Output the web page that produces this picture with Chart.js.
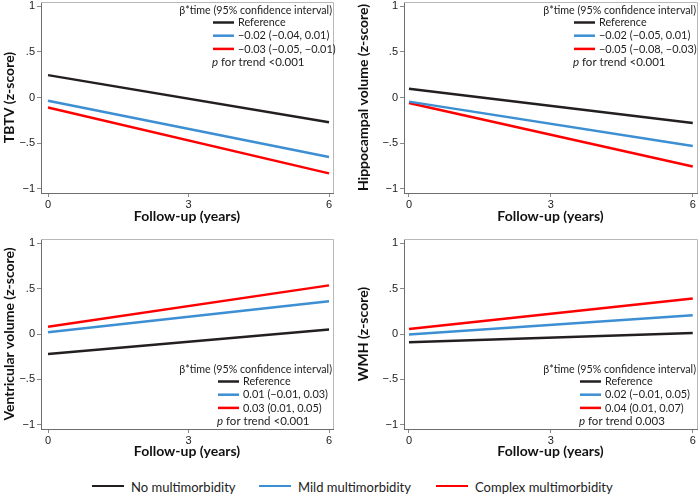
<!DOCTYPE html>
<html>
<head>
<meta charset="utf-8">
<script src="https://cdn.jsdelivr.net/npm/chart.js@4.4.0/dist/chart.umd.min.js"></script>
<style>
  html, body { margin: 0; padding: 0; background: #fff; }
  #wrap { position: relative; width: 700px; height: 495px; overflow: hidden; }
  .pane { position: absolute; }
  .lg { position: absolute; top: 477px; height: 18px; display: flex; align-items: center;
        font: 14px Lato, sans-serif; color: #222; white-space: nowrap; }
  .lg i { display: inline-block; width: 32px; height: 2.5px; margin-right: 7px; }
  .lg span { display: inline-block; transform: scaleX(0.93); transform-origin: left center; }
</style>
</head>
<body>
<div id="wrap">
  <div class="pane" style="left:0;top:0"><canvas id="c-tbtv" width="350" height="225"></canvas></div>
  <div class="pane" style="left:350px;top:0"><canvas id="c-hippo" width="350" height="225"></canvas></div>
  <div class="pane" style="left:0;top:225px"><canvas id="c-vent" width="350" height="235"></canvas></div>
  <div class="pane" style="left:350px;top:225px"><canvas id="c-wmh" width="350" height="235"></canvas></div>

  <div class="lg" style="left:92px"><i style="background:#231f20"></i><span>No multimorbidity</span></div>
  <div class="lg" style="left:259px"><i style="background:#3d8fd3"></i><span>Mild multimorbidity</span></div>
  <div class="lg" style="left:436px"><i style="background:#ff0000"></i><span>Complex multimorbidity</span></div>
</div>

<script>
// ── DATA ──────────────────────────────────────────────────────
const followUp = [0, 6];                 // years
const xTicks   = [0, 3, 6];
const yTicks   = [-1, -0.5, 0, 0.5, 1];
const yTickLabels = ['\u22121', '\u2212.5', '0', '.5', '1'];

const groups = ['No multimorbidity', 'Mild multimorbidity', 'Complex multimorbidity'];

const tbtvNo       = [0.245, -0.27];
const tbtvMild     = [-0.035, -0.65];
const tbtvComplex  = [-0.11, -0.83];

const hippoNo      = [0.095, -0.28];
const hippoMild    = [-0.045, -0.53];
const hippoComplex = [-0.06, -0.755];

const ventNo       = [-0.22, 0.05];
const ventMild     = [0.02, 0.36];
const ventComplex  = [0.08, 0.535];

const wmhNo        = [-0.09, 0.01];
const wmhMild      = [-0.005, 0.205];
const wmhComplex   = [0.055, 0.39];

const tbtvKey  = ['Reference', '\u22120.02 (\u22120.04, 0.01)', '\u22120.03 (\u22120.05, \u22120.01)'];
const hippoKey = ['Reference', '\u22120.02 (\u22120.05, 0.01)', '\u22120.05 (\u22120.08, \u22120.03)'];
const ventKey  = ['Reference', '0.01 (\u22120.01, 0.03)', '0.03 (0.01, 0.05)'];
const wmhKey   = ['Reference', '0.02 (\u22120.01, 0.05)', '0.04 (0.01, 0.07)'];
const pTrend   = ['<0.001', '<0.001', '<0.001', '0.003'];

// ── STYLE ─────────────────────────────────────────────────────
const COLORS    = ['#231f20', '#3d8fd3', '#ff0000'];
const TICKFONT  = { family: "'Liberation Sans', Arial, sans-serif", size: 11 };
const TITLEFONT = { family: 'Lato, sans-serif', size: 14, weight: 'bold' };
const KEYFONT   = '11.5px Lato, sans-serif';

// Lato is wider than the original's Calibri-like face: squeeze words a little
function squeezed(ctx, text, x, y, k) {
  const w = ctx.measureText(text).width * k;
  ctx.fillText(text, x, y, w);
  return w;
}

// in-plot key + light top/right frame
const keyPlugin = {
  id: 'key',
  afterDraw(chart, args, o) {
    const { ctx, chartArea: a } = chart;
    ctx.save();
    ctx.strokeStyle = '#b8b8b8';
    ctx.lineWidth = 1;
    ctx.beginPath();
    ctx.moveTo(a.left, a.top + 0.5);
    ctx.lineTo(a.right + 0.5, a.top + 0.5);
    ctx.lineTo(a.right + 0.5, a.bottom);
    ctx.stroke();

    const y0 = a.top + o.top;
    ctx.fillStyle = '#222';
    ctx.textBaseline = 'middle';
    ctx.font = KEYFONT;
    ctx.textAlign = 'right';
    squeezed(ctx, '\u03b2*time (95% confidence interval)', a.right - 1, y0, 0.93);

    ctx.textAlign = 'left';
    const x0 = a.right - o.dx;
    o.rows.forEach((t, i) => {
      const y = y0 + 12.5 + i * 13.2;
      ctx.strokeStyle = COLORS[i];
      ctx.lineWidth = 2.5;
      ctx.beginPath();
      ctx.moveTo(x0, y);
      ctx.lineTo(x0 + 21, y);
      ctx.stroke();
      squeezed(ctx, t, x0 + 25, y, i === 0 ? 0.94 : 0.95);
    });
    const yp = y0 + 12.5 + 3 * 13.2;
    ctx.font = 'italic ' + KEYFONT;
    const wp = squeezed(ctx, 'p', x0 - 1, yp, 1);
    ctx.font = KEYFONT;
    squeezed(ctx, ' for trend ' + o.p, x0 - 1 + wp, yp, 1);
    ctx.restore();
  }
};

function makePanel(id, box, yTitle, series, keyRows, p) {
  const W = box.w, H = box.h;
  const datasets = series.map((vals, i) => ({
    label: groups[i],
    data: followUp.map((x, j) => ({ x, y: vals[j] })),
    borderColor: COLORS[i],
    borderWidth: 2.5,
    pointRadius: 0,
    tension: 0,
    fill: false,
  }));

  return new Chart(document.getElementById(id), {
    type: 'line',
    data: { datasets },
    plugins: [keyPlugin],
    options: {
      responsive: false,
      animation: false,
      events: [],
      layout: { padding: { left: 0, top: box.top, right: W - box.right, bottom: 0 } },
      plugins: {
        legend: { display: false },
        tooltip: { enabled: false },
        key: { top: box.keyTop, dx: box.keyDx, rows: keyRows, p },
      },
      scales: {
        x: {
          type: 'linear',
          min: box.xMin, max: box.xMax,
          afterBuildTicks: s => { s.ticks = xTicks.map(v => ({ value: v })); },
          afterFit: s => { s.height = H - box.bottom; s.paddingLeft = 0; s.paddingRight = 0; },
          ticks: { font: TICKFONT, color: '#222', padding: 1, maxRotation: 0, callback: v => String(v) },
          grid: { drawOnChartArea: false, drawTicks: true, tickLength: 4, color: '#8a8a8a' },
          border: { display: true, color: '#6e6e6e', width: 1 },
          title: { display: true, text: 'Follow-up (years)', font: TITLEFONT, color: '#111', padding: 0 },
        },
        y: {
          min: -1.045, max: 1.045,
          afterBuildTicks: s => { s.ticks = yTicks.map(v => ({ value: v })); },
          afterFit: s => { s.width = box.left; s.paddingTop = 0; s.paddingBottom = 0; },
          ticks: {
            font: TICKFONT, color: '#222', padding: 2,
            callback: v => yTickLabels[yTicks.indexOf(v)] ?? '',
          },
          grid: { drawOnChartArea: false, drawTicks: true, tickLength: 4, color: '#8a8a8a' },
          border: { display: true, color: '#6e6e6e', width: 1 },
          title: { display: true, text: yTitle, font: TITLEFONT, color: '#111', padding: { top: box.yTitlePad, bottom: 0 } },
        },
      },
    },
  });
}

// ── PANELS ────────────────────────────────────────────────────
makePanel('c-tbtv',
  { w: 350, h: 225, left: 41, top: 2, right: 333, bottom: 193, xMin: -0.15, xMax: 6.085, keyTop: 8, keyDx: 120, yTitlePad: 1 },
  'TBTV (z-score)', [tbtvNo, tbtvMild, tbtvComplex], tbtvKey, pTrend[0]);

makePanel('c-hippo',
  { w: 350, h: 225, left: 54, top: 2, right: 347, bottom: 193, xMin: -0.105, xMax: 6.09, keyTop: 8, keyDx: 123, yTitlePad: 5 },
  'Hippocampal volume (z-score)', [hippoNo, hippoMild, hippoComplex], hippoKey, pTrend[1]);

makePanel('c-vent',
  { w: 350, h: 235, left: 41, top: 14, right: 333, bottom: 204, xMin: -0.15, xMax: 6.085, keyTop: 130, keyDx: 115, yTitlePad: 1 },
  'Ventricular volume (z-score)', [ventNo, ventMild, ventComplex], ventKey, pTrend[2]);

makePanel('c-wmh',
  { w: 350, h: 235, left: 54, top: 14, right: 347, bottom: 204, xMin: -0.105, xMax: 6.09, keyTop: 130, keyDx: 117, yTitlePad: 5 },
  'WMH (z-score)', [wmhNo, wmhMild, wmhComplex], wmhKey, pTrend[3]);
</script>
</body>
</html>
